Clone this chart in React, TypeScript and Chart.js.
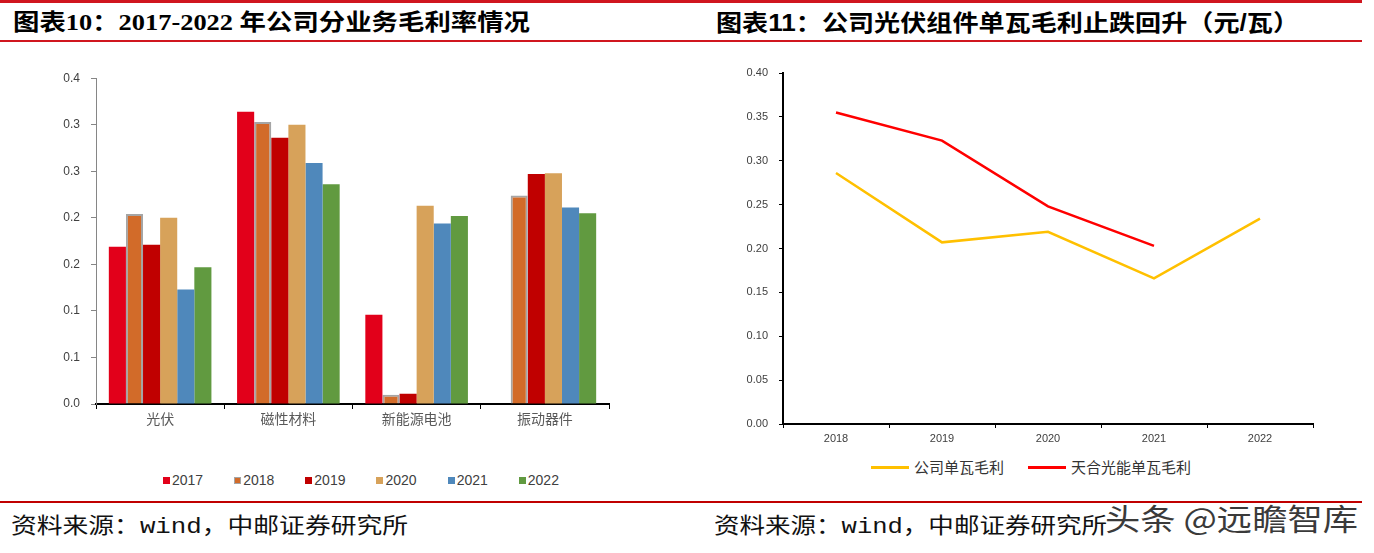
import React, { useEffect, useLayoutEffect, useRef } from "react";
import { Chart, registerables } from "chart.js";

Chart.register(...registerables);

// ---------- data: left bar chart ----------
const barCategories = ["光伏", "磁性材料", "新能源电池", "振动器件"];
const barYears = ["2017", "2018", "2019", "2020", "2021", "2022"];
const margin2017 = [0.169, 0.314, 0.096, null];
const margin2018 = [0.204, 0.303, 0.01, 0.224];
const margin2019 = [0.171, 0.286, 0.011, 0.247];
const margin2020 = [0.2, 0.3, 0.213, 0.248];
const margin2021 = [0.123, 0.259, 0.194, 0.211];
const margin2022 = [0.147, 0.236, 0.202, 0.205];
const barSeries = [margin2017, margin2018, margin2019, margin2020, margin2021, margin2022];
const barColors = ["#E2001A", "#D26B29", "#C00000", "#D7A25A", "#4F88BB", "#619A40"];

// ---------- data: right line chart ----------
const lineYears = ["2018", "2019", "2020", "2021", "2022"];
const lineNames = ["公司单瓦毛利", "天合光能单瓦毛利"];
const companyProfit = [0.286, 0.207, 0.219, 0.166, 0.234];
const trinaProfit = [0.355, 0.323, 0.248, 0.203, null];
const lineColors = ["#FFC000", "#FF0000"];

const titleLeft = "图表10：2017-2022 年公司分业务毛利率情况";
const titleRight = "图表11：公司光伏组件单瓦毛利止跌回升（元/瓦）";
const sourceText = "资料来源：wind，中邮证券研究所";
const watermark = "头条 @远瞻智库";

const SANS = "'Liberation Sans', Arial, 'Noto Sans CJK SC', sans-serif";
const CJK = "'Noto Sans CJK SC', sans-serif";

function FitText(props: { text: string; left: number; top: number; width: number; style?: React.CSSProperties }) {
  const ref = useRef<HTMLDivElement>(null);
  useLayoutEffect(() => {
    const fit = () => {
      const el = ref.current;
      if (!el) return;
      el.style.transform = "none";
      const w = el.getBoundingClientRect().width;
      if (w > 0) el.style.transform = `scaleX(${props.width / w})`;
    };
    fit();
    (document as any).fonts?.ready?.then(fit);
  }, [props.text, props.width]);
  return (
    <div
      ref={ref}
      style={{
        position: "absolute",
        left: props.left,
        top: props.top,
        whiteSpace: "nowrap",
        display: "inline-block",
        transformOrigin: "left center",
        ...props.style,
      }}
    >
      {props.text}
    </div>
  );
}

function BarChart() {
  const ref = useRef<HTMLCanvasElement>(null);
  useEffect(() => {
    if (!ref.current) return;
    const chart = new Chart(ref.current, {
      type: "bar",
      data: {
        labels: barCategories,
        datasets: barYears.map((y, i) => ({
          label: y,
          data: barSeries[i] as any,
          backgroundColor: barColors[i],
          borderColor: i === 1 ? "#A5A5A5" : barColors[i],
          borderWidth: i === 1 ? 2 : 0,
          categoryPercentage: 0.8,
          barPercentage: 1,
        })),
      },
      options: {
        animation: false,
        responsive: false,
        devicePixelRatio: 1,
        layout: { padding: { left: 0, right: 11, top: 16, bottom: 0 } },
        plugins: { legend: { display: false }, tooltip: { enabled: false } },
        scales: {
          x: {
            offset: true,
            grid: { offset: true, drawOnChartArea: false, drawTicks: true, tickLength: 5, color: "#000", lineWidth: 1 },
            border: { color: "#000", width: 2 },
            ticks: { font: { size: 14, family: SANS }, color: "#595959", padding: 3 },
            afterFit: (s: any) => {
              s.height = 36;
            },
          },
          y: {
            min: 0,
            max: 0.35,
            ticks: {
              stepSize: 0.05,
              font: { size: 12, family: SANS },
              color: "#404040",
              padding: 11,
              callback: (v: any) => (Math.round(Number(v) * 10 + 1e-6) / 10).toFixed(1),
            },
            grid: { drawOnChartArea: false, tickLength: 5, color: "#868686" },
            border: { color: "#868686", width: 1 },
            afterFit: (s: any) => {
              s.width = 56;
            },
          },
        },
      } as any,
    });
    return () => chart.destroy();
  }, []);
  return <canvas ref={ref} width={580} height={380} style={{ position: "absolute", left: 40, top: 60 }} />;
}

function LineChart() {
  const ref = useRef<HTMLCanvasElement>(null);
  useEffect(() => {
    if (!ref.current) return;
    const chart = new Chart(ref.current, {
      type: "line",
      data: {
        labels: lineYears,
        datasets: [
          { label: lineNames[0], data: companyProfit as any, borderColor: lineColors[0], backgroundColor: lineColors[0], borderWidth: 2.5, pointRadius: 0, tension: 0 },
          { label: lineNames[1], data: trinaProfit as any, borderColor: lineColors[1], backgroundColor: lineColors[1], borderWidth: 2.5, pointRadius: 0, tension: 0, spanGaps: false },
        ],
      },
      options: {
        animation: false,
        responsive: false,
        devicePixelRatio: 1,
        layout: { padding: { left: 0, right: 27, top: 23, bottom: 0 } },
        plugins: { legend: { display: false }, tooltip: { enabled: false } },
        scales: {
          x: {
            offset: true,
            grid: { offset: true, drawOnChartArea: false, drawTicks: true, tickLength: 4, color: "#000", lineWidth: 1 },
            border: { color: "#000", width: 2 },
            ticks: { font: { size: 11, family: SANS }, color: "#404040", padding: 4 },
            afterFit: (s: any) => {
              s.height = 26;
            },
          },
          y: {
            min: 0,
            max: 0.4,
            ticks: {
              stepSize: 0.05,
              font: { size: 11, family: SANS },
              color: "#404040",
              padding: 11,
              callback: (v: any) => Number(v).toFixed(2),
            },
            grid: { drawOnChartArea: false, tickLength: 4, color: "#000" },
            border: { color: "#000", width: 2 },
            afterFit: (s: any) => {
              s.width = 83;
            },
          },
        },
      } as any,
    });
    return () => chart.destroy();
  }, []);
  return <canvas ref={ref} width={640} height={400} style={{ position: "absolute", left: 700, top: 50 }} />;
}

export default function App() {
  const redLine = (top: number, h: number, color: string): React.CSSProperties => ({
    position: "absolute",
    left: 0,
    width: 1362,
    top,
    height: h,
    background: color,
  });
  return (
    <div style={{ position: "absolute", left: 0, top: 0, width: 1374, height: 553, background: "#fff", overflow: "hidden" }}>
      <div style={redLine(0, 3, "#D0161F")} />
      <div style={redLine(40, 2, "#D0161F")} />
      <div style={redLine(501, 2, "#C00000")} />

      <FitText
        text={titleLeft}
        left={13}
        top={8}
        width={517}
        style={{ font: "bold 23px 'Liberation Serif', 'Noto Sans CJK SC', serif", lineHeight: "30px", color: "#000" }}
      />
      <FitText
        text={titleRight}
        left={716}
        top={8}
        width={583}
        style={{ font: "bold 23px 'Liberation Sans', 'Noto Sans CJK SC', sans-serif", lineHeight: "30px", color: "#000" }}
      />

      <BarChart />
      <LineChart />

      {/* left legend */}
      <div style={{ position: "absolute", left: 163, top: 472, display: "flex", gap: 31, font: `14px ${SANS}`, lineHeight: "16px", color: "#404040" }}>
        {barYears.map((y, i) => (
          <div key={y} style={{ display: "flex", alignItems: "center", gap: 2 }}>
            <span
              style={{
                display: "inline-block",
                width: 7,
                height: 7,
                boxSizing: "border-box",
                background: barColors[i],
                border: i === 1 ? "1.5px solid #A5A5A5" : "none",
              }}
            />
            <span>{y}</span>
          </div>
        ))}
      </div>

      {/* right legend */}
      <div style={{ position: "absolute", left: 871, top: 457, display: "flex", gap: 24, font: `15px ${CJK}`, lineHeight: "20px", color: "#333" }}>
        {lineNames.map((n, i) => (
          <div key={n} style={{ display: "flex", alignItems: "center", gap: 5 }}>
            <span style={{ display: "inline-block", width: 38, height: 3, background: lineColors[i] }} />
            <span>{n}</span>
          </div>
        ))}
      </div>

      <FitText
        text={sourceText}
        left={11}
        top={514}
        width={397}
        style={{ font: "22px 'Liberation Mono', 'Noto Sans CJK SC', monospace", lineHeight: "28px", color: "#111" }}
      />
      <FitText
        text={sourceText}
        left={714}
        top={514}
        width={393}
        style={{ font: "22px 'Liberation Mono', 'Noto Sans CJK SC', monospace", lineHeight: "28px", color: "#111" }}
      />
      <FitText
        text={watermark}
        left={1105}
        top={499}
        width={253}
        style={{
          font: `30px ${CJK}`,
          lineHeight: "36px",
          color: "#3a3a3a",
          textShadow: "1px 1px 0 #fff, -1px -1px 0 #fff, 1px -1px 0 #fff, -1px 1px 0 #fff",
        }}
      />
    </div>
  );
}
